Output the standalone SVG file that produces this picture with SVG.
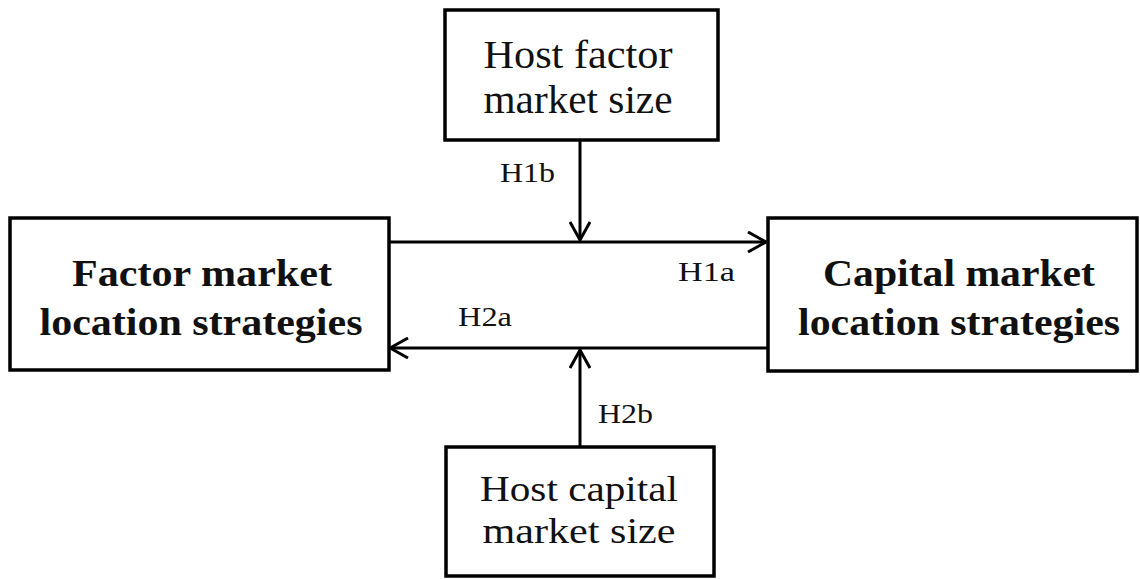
<svg xmlns="http://www.w3.org/2000/svg" width="1140" height="579" viewBox="0 0 1140 579">
<defs>
<style>
.box{fill:#fff;stroke:#000;stroke-width:3.5}
.t{font-family:"Liberation Serif","Times New Roman",serif;fill:#111;text-anchor:middle}
.r{font-size:40px}
.r2{font-size:36px}
.b{font-size:38px;font-weight:bold}
.l{font-size:28px;text-anchor:start}
.c{stroke:#000;stroke-width:3;fill:none}
</style>
<marker id="ah" viewBox="0 0 22 22" refX="20" refY="11" markerWidth="22" markerHeight="22" markerUnits="userSpaceOnUse" orient="auto">
<path d="M2,1 L20,11 L2,21" fill="none" stroke="#000" stroke-width="3"/>
</marker>
</defs>
<rect width="1140" height="579" fill="#fff"/>
<g id="connectors">
<line class="c" x1="389" y1="242" x2="766" y2="242" marker-end="url(#ah)"/>
<line class="c" x1="767" y1="348" x2="390" y2="348" marker-end="url(#ah)"/>
<line class="c" x1="580" y1="140" x2="580" y2="240" marker-end="url(#ah)"/>
<line class="c" x1="580" y1="447" x2="580" y2="350" marker-end="url(#ah)"/>
<text class="t l" x="500" y="182" textLength="55" lengthAdjust="spacingAndGlyphs">H1b</text>
<text class="t l" x="678" y="281" textLength="57" lengthAdjust="spacingAndGlyphs">H1a</text>
<text class="t l" x="458" y="326" textLength="54" lengthAdjust="spacingAndGlyphs">H2a</text>
<text class="t l" x="598" y="423" textLength="55" lengthAdjust="spacingAndGlyphs">H2b</text>
</g>
<g id="host-factor">
<rect class="box" x="445" y="10" width="273" height="130"/>
<text class="t r" x="578" y="68" textLength="189" lengthAdjust="spacingAndGlyphs">Host factor</text>
<text class="t r" x="578" y="113" textLength="189" lengthAdjust="spacingAndGlyphs">market size</text>
</g>
<g id="factor-strategies">
<rect class="box" x="10" y="218" width="379" height="152"/>
<text class="t b" x="202" y="286" textLength="260" lengthAdjust="spacingAndGlyphs">Factor market</text>
<text class="t b" x="201" y="335" textLength="323" lengthAdjust="spacingAndGlyphs">location strategies</text>
</g>
<g id="capital-strategies">
<rect class="box" x="768" y="218" width="369" height="153"/>
<text class="t b" x="959" y="286" textLength="272" lengthAdjust="spacingAndGlyphs">Capital market</text>
<text class="t b" x="959" y="335" textLength="322" lengthAdjust="spacingAndGlyphs">location strategies</text>
</g>
<g id="host-capital">
<rect class="box" x="446" y="447" width="268" height="129"/>
<text class="t r2" x="579" y="501" textLength="198" lengthAdjust="spacingAndGlyphs">Host capital</text>
<text class="t r2" x="579" y="543" textLength="193" lengthAdjust="spacingAndGlyphs">market size</text>
</g>
</svg>
